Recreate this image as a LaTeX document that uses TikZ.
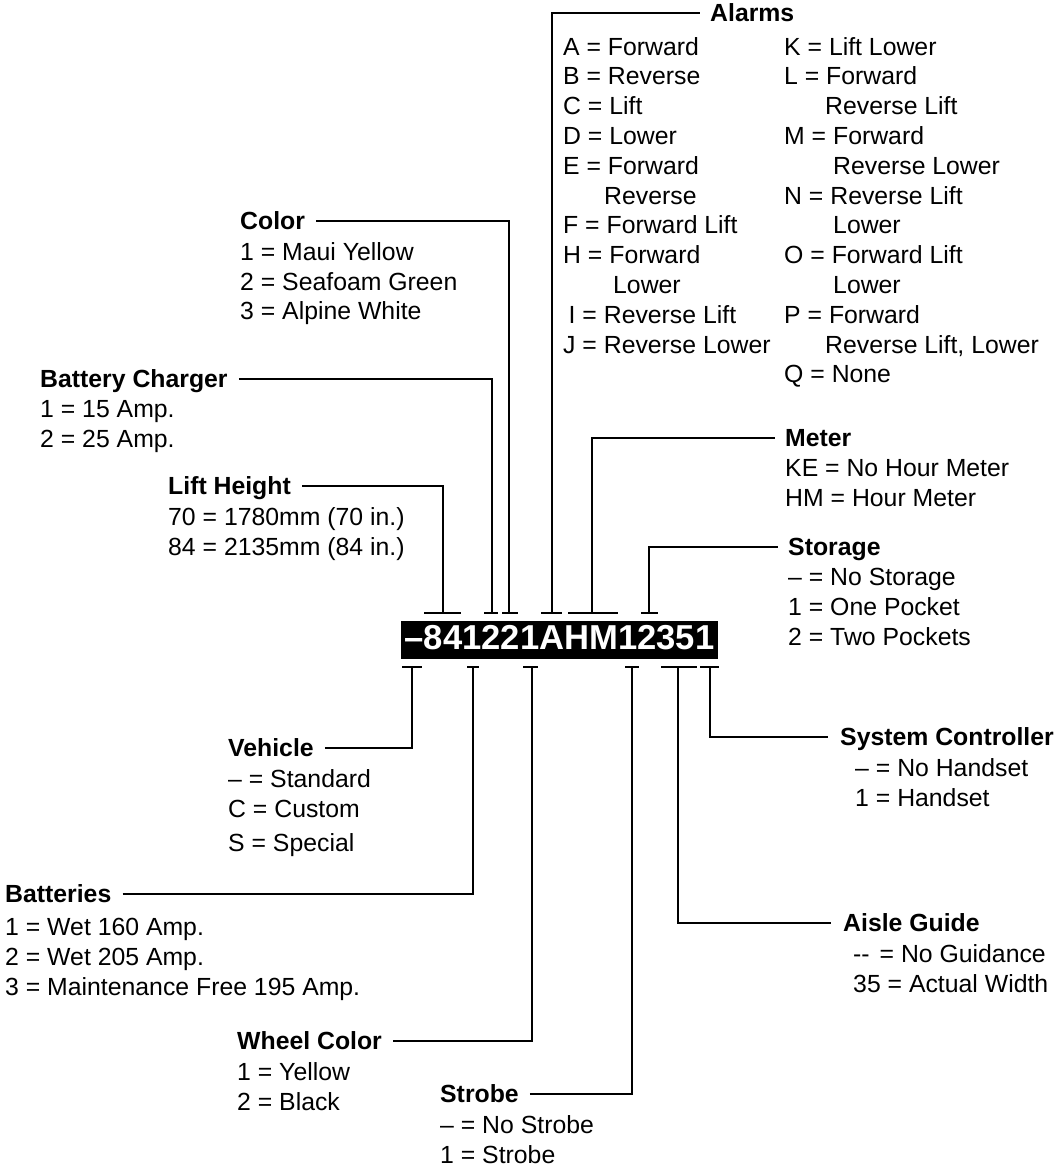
\documentclass[tikz,border=0pt]{standalone}
\usepackage{fontspec}
\setmainfont{Liberation Sans}
\usetikzlibrary{positioning}
\definecolor{KeyInk}{RGB}{0,0,0}
\newcommand{\keyfont}{\fontsize{24.8}{29.8}\selectfont}
\tikzset{
  key title/.style={
    anchor=west,
    inner sep=0pt,
    font=\keyfont\bfseries,
    text=KeyInk,
    text height=17.8pt,
    text depth=0pt
  },
  key list/.style={anchor=north west, inner sep=0pt, align=left, font=\keyfont, text=KeyInk},
  key wire/.style={draw=KeyInk, line width=2pt},
  key code/.style={
    fill=KeyInk,
    text=white,
    inner sep=0pt,
    font=\fontsize{34.6}{40}\selectfont\bfseries,
    minimum width=317pt,
    minimum height=38pt,
    text height=24.8pt,
    text depth=6pt
  }
}

\begin{document}
\begin{tikzpicture}[x=1pt, y=-1pt, node distance=12pt]
\useasboundingbox (0,0) rectangle (1057,1166);
% model number
\node[key code] (code) at (559.5,640) {–841221AHM12351};
% tick points above and below the code
\coordinate (tLift) at (443,613);
\coordinate (tCharger) at (492,613);
\coordinate (tColor) at (509,613);
\coordinate (tAlarm) at (552,613);
\coordinate (tMeter) at (592,613);
\coordinate (tStore) at (649,613);
\coordinate (tVeh) at (412,667);
\coordinate (tBat) at (473,667);
\coordinate (tWheel) at (532,667);
\coordinate (tStrobe) at (632,667);
\coordinate (tAisle) at (678,667);
\coordinate (tSys) at (710,667);
\draw[key wire] ([xshift=-19pt]tLift) -- ([xshift=18pt]tLift);
\draw[key wire] ([xshift=-8pt]tCharger) -- ([xshift=6pt]tCharger);
\draw[key wire] ([xshift=-7pt]tColor) -- ([xshift=9pt]tColor);
\draw[key wire] ([xshift=-11pt]tAlarm) -- ([xshift=10pt]tAlarm);
\draw[key wire] ([xshift=-24pt]tMeter) -- ([xshift=26pt]tMeter);
\draw[key wire] ([xshift=-8pt]tStore) -- ([xshift=9pt]tStore);
\draw[key wire] ([xshift=-10pt]tVeh) -- ([xshift=10pt]tVeh);
\draw[key wire] ([xshift=-6pt]tBat) -- ([xshift=6pt]tBat);
\draw[key wire] ([xshift=-9pt]tWheel) -- ([xshift=6pt]tWheel);
\draw[key wire] ([xshift=-7pt]tStrobe) -- ([xshift=7pt]tStrobe);
\draw[key wire] ([xshift=-17pt]tAisle) -- ([xshift=19pt]tAisle);
\draw[key wire] ([xshift=-10pt]tSys) -- ([xshift=9pt]tSys);
% upper keys
\node[key title] (alT) at (710,13) {Alarms};
\node[key list] (alL) at (563,37) {A = Forward\\B = Reverse\\C = Lift\\D = Lower\\E = Forward\\\hspace*{41pt}Reverse\\F = Forward Lift\\H = Forward\\\hspace*{50pt}Lower\\\hspace*{5.5pt}I = Reverse Lift\\J = Reverse Lower};
\node[key list] (alR) at (784,37) {K = Lift Lower\\L = Forward\\\hspace*{41pt}Reverse Lift\\M = Forward\\\hspace*{49pt}Reverse Lower\\N = Reverse Lift\\\hspace*{49pt}Lower\\O = Forward Lift\\\hspace*{49pt}Lower\\P = Forward\\\hspace*{41pt}Reverse Lift, Lower\\Q = None};
\node[key title] (colT) at (240,221) {Color};
\node[key list, below=of colT.south west, anchor=north west] (colL) {1 = Maui Yellow\\2 = Seafoam Green\\3 = Alpine White};
\node[key title] (chgT) at (40,379) {Battery Charger};
\node[key list, below=of chgT.south west, anchor=north west] (chgL) {1 = 15 Amp.\\2 = 25 Amp.};
\node[key title] (liftT) at (168,486) {Lift Height};
\node[key list, below=of liftT.south west, anchor=north west] (liftL) {70 = 1780mm (70 in.)\\84 = 2135mm (84 in.)};
\node[key title] (metT) at (785,438) {Meter};
\node[key list, below=of metT.south west, anchor=north west] (metL) {KE = No Hour Meter\\HM = Hour Meter};
\node[key title] (stoT) at (788,547) {Storage};
\node[key list, below=of stoT.south west, anchor=north west] (stoL) {– = No Storage\\1 = One Pocket\\2 = Two Pockets};
% lower keys
\node[key title] (vehT) at (228,748) {Vehicle};
\node[key list, below=of vehT.south west, anchor=north west] (vehL) {– = Standard\\C = Custom\\[5pt]S = Special};
\node[key title] (batT) at (5,894) {Batteries};
\node[key list, below=15pt of batT.south west, anchor=north west] (batL) {1 = Wet 160 Amp.\\2 = Wet 205 Amp.\\3 = Maintenance Free 195 Amp.};
\node[key title] (whlT) at (237,1041) {Wheel Color};
\node[key list, below=of whlT.south west, anchor=north west] (whlL) {1 = Yellow\\2 = Black};
\node[key title] (strT) at (440,1094) {Strobe};
\node[key list, below=of strT.south west, anchor=north west] (strL) {– = No Strobe\\1 = Strobe};
\node[key title] (sysT) at (840,737) {System Controller};
\node[key list, below=of sysT.south west, anchor=north west, xshift=15pt] (sysL) {– = No Handset\\1 = Handset};
\node[key title] (aisT) at (843,923) {Aisle Guide};
\node[key list, below=of aisT.south west, anchor=north west, xshift=10pt] (aisL) {-{}-\hspace{0.4em}= No Guidance\\35 = Actual Width};
% connectors
\draw[key wire] (tAlarm) |- ([xshift=-10pt]alT.west);
\draw[key wire] ([xshift=11pt]colT.east) -| (tColor);
\draw[key wire] ([xshift=11pt]chgT.east) -| (tCharger);
\draw[key wire] ([xshift=11pt]liftT.east) -| (tLift);
\draw[key wire] (tMeter) |- ([xshift=-10pt]metT.west);
\draw[key wire] (tStore) |- ([xshift=-10pt]stoT.west);
\draw[key wire] ([xshift=11pt]vehT.east) -| (tVeh);
\draw[key wire] ([xshift=11pt]batT.east) -| (tBat);
\draw[key wire] ([xshift=11pt]whlT.east) -| (tWheel);
\draw[key wire] ([xshift=11pt]strT.east) -| (tStrobe);
\draw[key wire] (tSys) |- ([xshift=-12pt]sysT.west);
\draw[key wire] (tAisle) |- ([xshift=-12pt]aisT.west);
\end{tikzpicture}
\end{document}
